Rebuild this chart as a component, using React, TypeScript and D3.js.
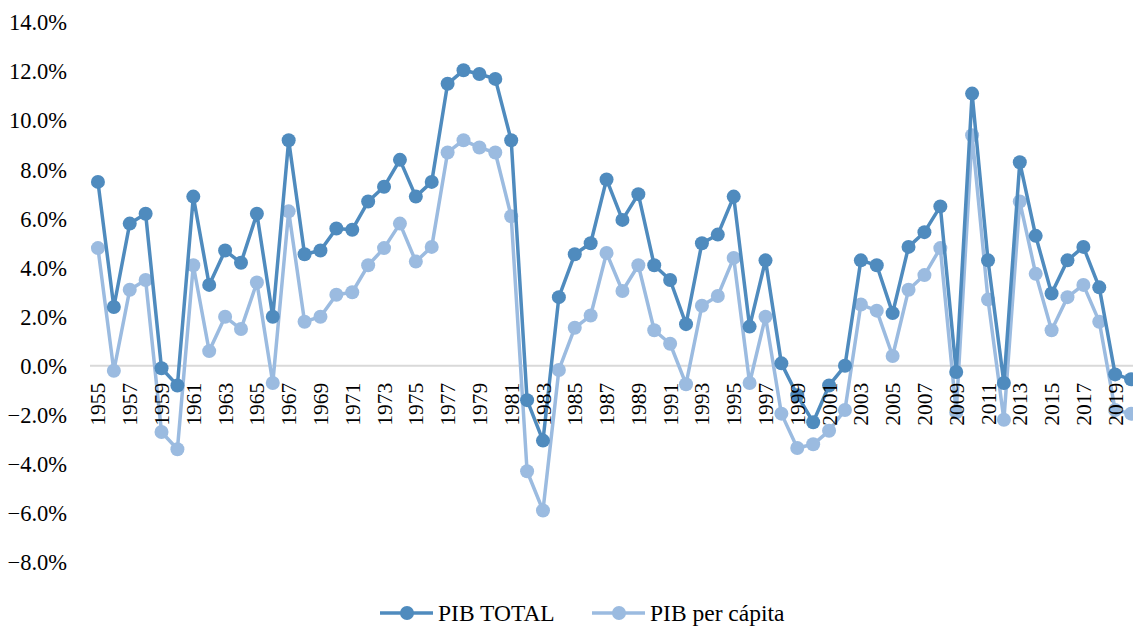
import * as d3 from "d3";
import { useEffect, useRef } from "react";

// years on the category axis
const years: number[] = d3.range(1955, 2021);

// annual growth, %
const pibTotal: number[] = [
  7.5, 2.4, 5.8, 6.2, -0.1, -0.8, 6.9, 3.3, 4.7, 4.2,
  6.2, 2.0, 9.2, 4.55, 4.7, 5.6, 5.55, 6.7, 7.3, 8.4,
  6.9, 7.5, 11.5, 12.05, 11.9, 11.7, 9.2, -1.4, -3.05, 2.8,
  4.55, 5.0, 7.6, 5.95, 7.0, 4.1, 3.5, 1.7, 5.0, 5.35,
  6.9, 1.6, 4.3, 0.1, -1.2, -2.3, -0.8, 0.0, 4.3, 4.1,
  2.15, 4.85, 5.45, 6.5, -0.25, 11.1, 4.3, -0.7, 8.3, 5.3,
  2.95, 4.3, 4.85, 3.2, -0.35, -0.55,
];

const pibPerCapita: number[] = [
  4.8, -0.2, 3.1, 3.5, -2.7, -3.4, 4.1, 0.6, 2.0, 1.5,
  3.4, -0.7, 6.3, 1.8, 2.0, 2.9, 3.0, 4.1, 4.8, 5.8,
  4.25, 4.85, 8.7, 9.2, 8.9, 8.7, 6.1, -4.3, -5.9, -0.17,
  1.55, 2.05, 4.6, 3.05, 4.1, 1.45, 0.9, -0.75, 2.45, 2.85,
  4.4, -0.7, 2.0, -1.95, -3.35, -3.2, -2.65, -1.8, 2.5, 2.25,
  0.4, 3.1, 3.7, 4.8, -1.9, 9.4, 2.7, -2.2, 6.7, 3.75,
  1.45, 2.8, 3.3, 1.8, -1.8, -1.95,
];

const yTicks: number[] = [-8, -6, -4, -2, 0, 2, 4, 6, 8, 10, 12, 14];

const seriesNames = ["PIB TOTAL", "PIB per cápita"];
const seriesColors = ["#4f8bbe", "#9bbbe0"];

const W = 1133, H = 627;
const FONT = "Liberation Serif, Tinos, Times New Roman, DejaVu Serif, serif";

const App = () => {
  const ref: any = useRef();

  useEffect(() => {
    const svg = d3.select(ref.current);
    svg.selectAll("*").remove();

    const x = d3.scalePoint<number>().domain(years).range([90, 1139]).padding(0.5);
    const y = d3.scaleLinear().domain([-8, 14]).range([562, 22.5]);

    // zero line
    svg.append("line")
      .attr("x1", 90).attr("x2", 1133)
      .attr("y1", y(0)).attr("y2", y(0))
      .attr("stroke", "#d9d9d9").attr("stroke-width", 2);

    // y axis labels
    svg.append("g").selectAll("text")
      .data(yTicks)
      .join("text")
      .attr("x", 67)
      .attr("y", d => y(d))
      .attr("dy", "0.35em")
      .attr("text-anchor", "end")
      .attr("font-family", FONT)
      .attr("font-size", 22.5)
      .attr("fill", "#000")
      .text(d => d3.format(".1f")(d) + "%");

    const data = [pibTotal, pibPerCapita];
    const line = d3.line<number>()
      .x((d, i) => x(years[i]) as number)
      .y(d => y(d));

    // lighter series first, darker on top
    [1, 0].forEach(s => {
      const g = svg.append("g");
      g.append("path")
        .datum(data[s])
        .attr("d", line)
        .attr("fill", "none")
        .attr("stroke", seriesColors[s])
        .attr("stroke-width", 3.5)
        .attr("stroke-linejoin", "round");
      g.selectAll("circle")
        .data(data[s])
        .join("circle")
        .attr("cx", (d, i) => x(years[i]) as number)
        .attr("cy", d => y(d))
        .attr("r", 7)
        .attr("fill", seriesColors[s]);
    });

    // year labels, every other year
    svg.append("g").selectAll("text")
      .data(years.filter((d, i) => i % 2 === 0))
      .join("text")
      .attr("transform", d => `translate(${x(d)},${y(0) + 17}) rotate(-90)`)
      .attr("dy", "0.35em")
      .attr("text-anchor", "end")
      .attr("font-family", FONT)
      .attr("font-size", 21.5)
      .attr("fill", "#000")
      .text(d => d);

    // legend
    const legendX = [380, 592];
    const legend = svg.append("g").selectAll("g")
      .data(seriesNames)
      .join("g")
      .attr("transform", (d, i) => `translate(${legendX[i]},613)`);
    legend.append("line")
      .attr("x1", 0).attr("x2", 53)
      .attr("stroke", (d, i) => seriesColors[i])
      .attr("stroke-width", 3.5);
    legend.append("circle")
      .attr("cx", 27).attr("r", 7)
      .attr("fill", (d, i) => seriesColors[i]);
    legend.append("text")
      .attr("x", 58)
      .attr("dy", "0.35em")
      .attr("font-family", FONT)
      .attr("font-size", 23.5)
      .attr("fill", "#000")
      .text(d => d);
  }, []);

  return (
    <svg
      ref={ref}
      width={W}
      height={H}
      style={{ position: "absolute", left: 0, top: 0, background: "#fff" }}
    />
  );
};

export default App;
